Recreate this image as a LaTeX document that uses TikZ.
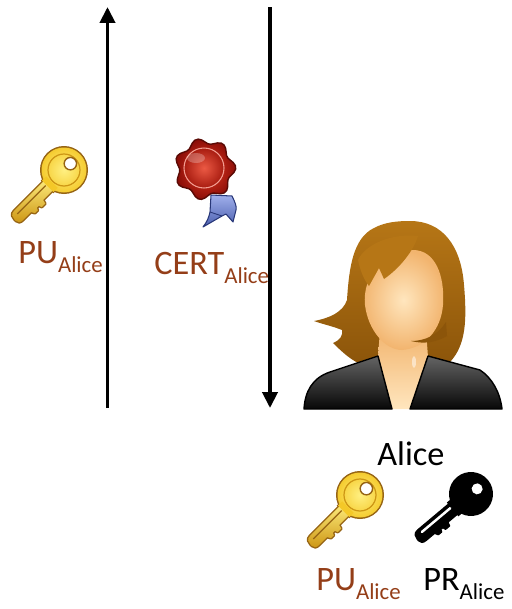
\documentclass[tikz,border=0pt]{standalone}
\usepackage{fontspec}
\setmainfont{Carlito}
\usetikzlibrary{arrows.meta}

\definecolor{labelbrown}{RGB}{148,62,24}
\definecolor{goldlight}{RGB}{255,240,130}
\definecolor{goldmid}{RGB}{244,200,40}
\definecolor{golddark}{RGB}{205,150,20}
\definecolor{goldedge}{RGB}{150,100,20}
\definecolor{waxlight}{RGB}{232,60,35}
\definecolor{waxdark}{RGB}{140,14,8}
\definecolor{waxedge}{RGB}{90,10,5}
\definecolor{ribbonlight}{RGB}{160,175,235}
\definecolor{ribbondark}{RGB}{75,95,175}
\definecolor{ribbonedge}{RGB}{40,55,120}
\definecolor{hairlight}{RGB}{182,118,22}
\definecolor{hairdark}{RGB}{140,85,10}
\definecolor{skinlight}{RGB}{255,230,190}
\definecolor{skindark}{RGB}{242,180,110}
\definecolor{jackettop}{RGB}{100,100,100}
\definecolor{jacketbottom}{RGB}{8,8,8}

% blade of a key, bow centred at the origin, tip along +x, teeth on the -y side
\newcommand\keybladepath{(16,6.5) -- (64,6.5) .. controls (69,6.5) and (70,3) .. (70,0) -- (70,-2) .. controls (70,-5) and (68,-6.5) .. (64,-6.5) -- (53,-6.5) -- (51,-10) -- (47,-10) -- (46,-7.5) -- (43,-7.5) -- (42,-10.5) -- (37,-10.5) -- (36,-6.5) -- (16,-6.5) -- cycle}
\newcommand\subtxt[1]{\raisebox{-5.3pt}{\fontsize{13}{13}\selectfont #1}}

\tikzset{
  lbl/.style={inner sep=0pt, anchor=base west, font=\fontsize{19.5}{19.5}\selectfont},
  flow/.style={line width=2.1pt, -{Triangle[width=8.5pt,length=9pt]}},
  goldkey/.pic={
    \fill[goldedge] (0,0) circle (24);
    \filldraw[goldedge, line width=1.6pt, line join=round] \keybladepath;
    \fill[goldedge] (16,-9) rectangle (24,9);
    \shade[top color=goldlight, bottom color=golddark] \keybladepath;
    \shade[inner color=goldlight, outer color=goldmid] (0,0) circle (22.5);
    \draw[golddark, line width=0.7pt] (0,0) circle (16);
    \fill[goldmid] (17,-8) rectangle (23,8);
    \draw[goldedge, line width=0.7pt] (24,2) -- (64,2);
    \filldraw[fill=white, draw=goldedge, line width=0.8pt] (-9,0) circle (6.2);
  },
  blackkey/.pic={
    \fill (0,0) circle (22);
    \filldraw[line width=1pt, line join=round] \keybladepath;
    \fill (16,-9) rectangle (24,9);
    \draw[white, line width=1.4pt, line cap=round] (25,2.5) -- (62,2.5);
    \fill[white] (-8,0) circle (5.5);
  }
}

\begin{document}
\begin{tikzpicture}[x=0.02cm, y=-0.02cm]
\useasboundingbox (0,0) rectangle (511,609);

% message arrows
\coordinate (upstart) at (107.5,408);
\coordinate (upend) at (107.5,7);
\coordinate (downstart) at (270,7);
\coordinate (downend) at (270,408);
\draw[flow] (upstart) -- (upend);
\draw[flow] (downstart) -- (downend);

% public key sent up
\pic[rotate=225] at (64,170) {goldkey};
\node[lbl, text=labelbrown] (pu1) at (18,263) {PU\subtxt{Alice}};

% certificate seal: ribbon behind the wax
\shade[top color=ribbonlight, bottom color=ribbondark, draw=ribbonedge, line width=0.6pt, line join=round]
  (211,195) -- (232,196) .. controls (235,202) and (237,207) .. (236,210)
  -- (233,222) -- (226,214) -- (222,216) -- (203,227)
  .. controls (207,222) and (209,217) .. (210,212) -- cycle;
\draw[ribbonedge, line width=0.5pt] (210,212) -- (222,216);
\shade[inner color=waxlight, outer color=waxdark, draw=waxedge, line width=0.8pt]
  plot[smooth cycle, samples=56, domain=0:353.57, variable=\t]
  ({205+(28+2.8*cos(7*\t+20))*cos(\t)}, {169+(28+2.8*cos(7*\t+20))*sin(\t)});
\shade[inner color=waxlight!85!white, outer color=waxdark!70!waxlight, draw=waxlight!50!white, line width=0.6pt]
  (204,168) circle (20);
\fill[white, opacity=0.25] (196,158) ellipse (9 and 5);
\node[lbl, text=labelbrown] (cert) at (154,274) {CERT\subtxt{Alice}};

% Alice: hair behind the face
\shade[top color=hairlight, bottom color=hairdark]
  (410,221) .. controls (442,221) and (461,245) .. (464,285)
  .. controls (467,320) and (466,345) .. (450,362)
  -- (360,364)
  .. controls (352,360) and (345,355) .. (333,343)
  .. controls (340,340) and (343,336) .. (342,330)
  .. controls (332,326) and (322,324) .. (314,321)
  .. controls (330,318) and (343,312) .. (347,300)
  .. controls (349,268) and (353,238) .. (374,228)
  .. controls (385,222) and (398,221) .. (410,221) -- cycle;
% neck and the skin of the neckline
\shade[top color=skindark, bottom color=skinlight]
  (380,330) -- (426,330) -- (428,357) -- (410,409) -- (392,409) -- (378,357) -- cycle;
\fill[white, opacity=0.5] (414,362) ellipse (2 and 6);
% face
\shade[inner color=skinlight, outer color=skindark]
  (413,250) .. controls (435,250) and (445,275) .. (443,305)
  .. controls (441,330) and (425,348) .. (402,350)
  .. controls (385,350) and (368,330) .. (365,305)
  .. controls (362,275) and (385,250) .. (413,250) -- cycle;
% fringe over the forehead
\fill[hairlight]
  (418,236) .. controls (414,250) and (400,268) .. (384,279) -- (379,268) -- (369,286)
  .. controls (364,280) and (360,270) .. (358,260)
  .. controls (365,245) and (390,233) .. (418,236) -- cycle;
% strand by the chin
\fill[hairdark]
  (446,322) .. controls (438,335) and (425,341) .. (411,341)
  .. controls (423,344) and (435,343) .. (447,336) -- cycle;
% jacket, two lapels either side of the neckline
\shade[top color=jackettop, bottom color=jacketbottom, draw=black, line width=0.8pt, line join=round]
  (304,409) .. controls (305,392) and (312,378) .. (330,372) -- (378,356) -- (392,409) -- cycle;
\shade[top color=jackettop, bottom color=jacketbottom, draw=black, line width=0.8pt, line join=round]
  (410,409) -- (428,356) -- (480,370) .. controls (492,378) and (500,392) .. (502,409) -- cycle;
\node[lbl] (alice) at (377,465) {Alice};

% Alice's key pair
\pic[rotate=225] at (360,495) {goldkey};
\pic[rotate=220] at (471,494) {blackkey};
\node[lbl, text=labelbrown] (pu2) at (316,590) {PU\subtxt{Alice}};
\node[lbl] (pr) at (423,590) {PR\subtxt{Alice}};
\end{tikzpicture}
\end{document}
